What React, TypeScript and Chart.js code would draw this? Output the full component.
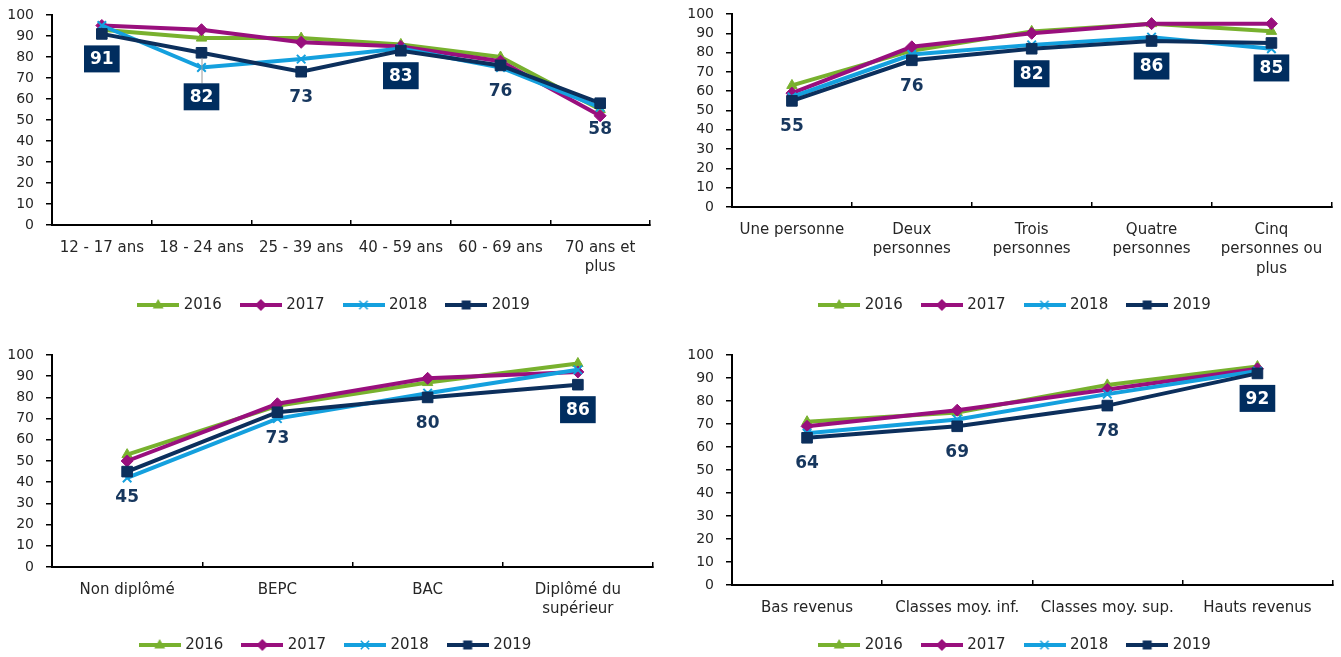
import React, { useEffect, useRef } from 'react';
import { Chart, registerables } from 'chart.js';

Chart.register(...registerables);

// ---------- data ----------
const YEARS = ['2016', '2017', '2018', '2019'];

const ageCategories = [['12 - 17 ans'], ['18 - 24 ans'], ['25 - 39 ans'], ['40 - 59 ans'], ['60 - 69 ans'], ['70 ans et', 'plus']];
const age2016 = [93, 89, 89, 86, 80, 55];
const age2017 = [95, 93, 87, 85, 78, 52];
const age2018 = [95, 75, 79, 84, 75, 56];
const age2019 = [91, 82, 73, 83, 76, 58];

const householdCategories = [['Une personne'], ['Deux', 'personnes'], ['Trois', 'personnes'], ['Quatre', 'personnes'], ['Cinq', 'personnes ou', 'plus']];
const household2016 = [63, 81, 91, 95, 91];
const household2017 = [59, 83, 90, 95, 95];
const household2018 = [57, 79, 84, 88, 82];
const household2019 = [55, 76, 82, 86, 85];

const diplomaCategories = [['Non diplômé'], ['BEPC'], ['BAC'], ['Diplômé du', 'supérieur']];
const diploma2016 = [53, 76, 87, 96];
const diploma2017 = [50, 77, 89, 92];
const diploma2018 = [42, 70, 82, 93];
const diploma2019 = [45, 73, 80, 86];

const incomeCategories = [['Bas revenus'], ['Classes moy. inf.'], ['Classes moy. sup.'], ['Hauts revenus']];
const income2016 = [71, 75, 87, 95];
const income2017 = [69, 76, 85, 94];
const income2018 = [66, 72, 83, 93];
const income2019 = [64, 69, 78, 92];

const Y_MIN = 0;
const Y_MAX = 100;
const Y_STEP = 10;

// ---------- styles ----------
const FONT = "'DejaVu Sans', Verdana, sans-serif";
const COLORS = ['#78B12E', '#990F7D', '#14A0DE', '#0C2F5C'];
const POINT_STYLES = ['triangle', 'rectRot', 'crossRot', 'rect'];
const POINT_RADII = [6, 6, 6, 7.5];
const TEXT_COLOR = '#262626';
const LABEL_TEXT = '#17375E';
const LABEL_BOX = '#002D5F';

type PanelSpec = {
  left: number; top: number; width: number; height: number;
  padding: { left: number; right: number; top: number; bottom: number };
  yWidth: number; xHeight: number; legendShift: number;
  categories: string[][];
  series: number[][];
  boxed: boolean[];
  leader: boolean[];
};

const PANELS: PanelSpec[] = [
  {
    left: 0, top: 0, width: 670, height: 330,
    padding: { left: 0, right: 20, top: 15, bottom: 7.5 },
    yWidth: 52, xHeight: 51.5, legendShift: 10,
    categories: ageCategories,
    series: [age2016, age2017, age2018, age2019],
    boxed: [true, true, false, true, false, false],
    leader: [false, true, false, false, false, false],
  },
  {
    left: 680, top: 0, width: 661, height: 330,
    padding: { left: 0, right: 8, top: 14, bottom: 7.5 },
    yWidth: 52, xHeight: 69.5, legendShift: 9.5,
    categories: householdCategories,
    series: [household2016, household2017, household2018, household2019],
    boxed: [false, false, true, true, true],
    leader: [false, false, false, false, false],
  },
  {
    left: 0, top: 330, width: 670, height: 335,
    padding: { left: 0, right: 17, top: 25, bottom: 2.5 },
    yWidth: 52, xHeight: 49.5, legendShift: 10,
    categories: diplomaCategories,
    series: [diploma2016, diploma2017, diploma2018, diploma2019],
    boxed: [false, false, false, true],
    leader: [false, false, false, false],
  },
  {
    left: 680, top: 330, width: 661, height: 335,
    padding: { left: 0, right: 8, top: 25, bottom: 2.5 },
    yWidth: 52, xHeight: 31.5, legendShift: 9.5,
    categories: incomeCategories,
    series: [income2016, income2017, income2018, income2019],
    boxed: [false, false, false, true],
    leader: [false, false, false, false],
  },
];

function drawMarker(ctx: CanvasRenderingContext2D, style: string, x: number, y: number, r: number, color: string) {
  ctx.fillStyle = color;
  ctx.strokeStyle = color;
  ctx.beginPath();
  if (style === 'triangle') {
    ctx.moveTo(x, y - r);
    ctx.lineTo(x + r * 0.9, y + r * 0.6);
    ctx.lineTo(x - r * 0.9, y + r * 0.6);
    ctx.closePath();
    ctx.fill();
  } else if (style === 'rectRot') {
    ctx.moveTo(x, y - r);
    ctx.lineTo(x + r, y);
    ctx.lineTo(x, y + r);
    ctx.lineTo(x - r, y);
    ctx.closePath();
    ctx.fill();
  } else if (style === 'crossRot') {
    ctx.lineWidth = 1.5;
    ctx.moveTo(x - r * 0.7, y - r * 0.7);
    ctx.lineTo(x + r * 0.7, y + r * 0.7);
    ctx.moveTo(x + r * 0.7, y - r * 0.7);
    ctx.lineTo(x - r * 0.7, y + r * 0.7);
    ctx.stroke();
  } else {
    ctx.rect(x - r * 0.75, y - r * 0.75, r * 1.5, r * 1.5);
    ctx.fill();
  }
}

function makeLegendImage(i: number): HTMLCanvasElement {
  const c = document.createElement('canvas');
  c.width = 42;
  c.height = 14;
  const ctx = c.getContext('2d')!;
  ctx.strokeStyle = COLORS[i];
  ctx.lineWidth = 4;
  ctx.beginPath();
  ctx.moveTo(0, 7);
  ctx.lineTo(42, 7);
  ctx.stroke();
  drawMarker(ctx, POINT_STYLES[i], 21, 7, 6, COLORS[i]);
  return c;
}

function valueLabelPlugin(boxed: boolean[], leader: boolean[]) {
  return {
    id: 'valueLabels',
    afterDatasetsDraw(chart: any) {
      const idx = 3;
      const meta = chart.getDatasetMeta(idx);
      const values = chart.data.datasets[idx].data as number[];
      const ctx: CanvasRenderingContext2D = chart.ctx;
      ctx.save();
      ctx.font = `bold 17px ${FONT}`;
      ctx.textAlign = 'center';
      ctx.textBaseline = 'middle';
      meta.data.forEach((pt: any, i: number) => {
        const off = leader[i] ? 44 : 25;
        const x = pt.x;
        const y = pt.y + off;
        const text = String(values[i]);
        if (boxed[i]) {
          const w = ctx.measureText(text).width + 12;
          const h = 27;
          if (leader[i]) {
            ctx.strokeStyle = '#9A9A9A';
            ctx.lineWidth = 1;
            ctx.beginPath();
            ctx.moveTo(x + 0.5, pt.y + 5);
            ctx.lineTo(x + 0.5, y - h / 2);
            ctx.stroke();
          }
          ctx.fillStyle = LABEL_BOX;
          ctx.fillRect(x - w / 2, y - h / 2, w, h);
          ctx.fillStyle = '#FFFFFF';
        } else {
          ctx.fillStyle = LABEL_TEXT;
        }
        ctx.fillText(text, x, y + 1);
      });
      ctx.restore();
    },
  };
}

function legendShiftPlugin(shift: number) {
  return {
    id: 'legendShift',
    afterLayout(chart: any) {
      const l = chart.legend;
      if (l) {
        l.left += shift;
        l.right += shift;
      }
    },
  };
}

function buildConfig(p: PanelSpec, legendImages: HTMLCanvasElement[]): any {
  return {
    type: 'line',
    data: {
      labels: p.categories,
      datasets: p.series.map((vals, i) => ({
        label: YEARS[i],
        data: vals,
        borderColor: COLORS[i],
        backgroundColor: COLORS[i],
        borderWidth: 4,
        pointStyle: POINT_STYLES[i],
        pointRadius: POINT_RADII[i],
        pointBorderWidth: i === 2 ? 2 : 1,
        pointBackgroundColor: COLORS[i],
        pointBorderColor: COLORS[i],
        tension: 0,
        fill: false,
        order: 3 - i,
      })),
    },
    options: {
      animation: false,
      responsive: false,
      devicePixelRatio: 1,
      events: [],
      layout: { padding: p.padding },
      scales: {
        x: {
          type: 'category',
          offset: true,
          grid: { offset: true, drawOnChartArea: false, drawTicks: true, tickLength: -5, color: '#000', lineWidth: 1.5 },
          border: { display: true, color: '#000', width: 2 },
          ticks: {
            autoSkip: false, maxRotation: 0, minRotation: 0, padding: 18,
            color: TEXT_COLOR, font: { family: FONT, size: 15, lineHeight: 1.3 },
          },
          afterFit: (s: any) => { s.height = p.xHeight; },
        },
        y: {
          min: Y_MIN, max: Y_MAX,
          ticks: { stepSize: Y_STEP, autoSkip: false, padding: 12, color: TEXT_COLOR, font: { family: FONT, size: 14 } },
          grid: { drawOnChartArea: false, drawTicks: true, tickLength: 6, color: '#000', lineWidth: 1.5 },
          border: { display: true, color: '#000', width: 2 },
          afterFit: (s: any) => {
            s.width = p.yWidth;
            s.paddingTop = 0;
            s.paddingBottom = 0;
          },
        },
      },
      plugins: {
        tooltip: { enabled: false },
        legend: {
          position: 'bottom',
          labels: {
            usePointStyle: true,
            pointStyleWidth: 36,
            padding: 21,
            color: TEXT_COLOR,
            font: { family: FONT, size: 15 },
            generateLabels: (chart: any) => chart.data.datasets.map((ds: any, i: number) => ({
              text: ds.label,
              datasetIndex: i,
              pointStyle: legendImages[i],
              fillStyle: COLORS[i],
              strokeStyle: COLORS[i],
              lineWidth: 0,
              hidden: false,
              fontColor: TEXT_COLOR,
            })),
          },
        },
      },
    },
    plugins: [valueLabelPlugin(p.boxed, p.leader), legendShiftPlugin(p.legendShift)],
  };
}

function Panel({ spec }: { spec: PanelSpec }) {
  const ref = useRef<HTMLCanvasElement>(null);
  useEffect(() => {
    const images = YEARS.map((_, i) => makeLegendImage(i));
    const chart = new Chart(ref.current!, buildConfig(spec, images));
    return () => chart.destroy();
  }, [spec]);
  return (
    <canvas
      ref={ref}
      width={spec.width}
      height={spec.height}
      style={{ position: 'absolute', left: spec.left, top: spec.top, width: spec.width, height: spec.height }}
    />
  );
}

export default function App() {
  return (
    <div style={{ position: 'fixed', left: 0, top: 0, width: 1341, height: 657, overflow: 'hidden', background: '#fff' }}>
      {PANELS.map((p, i) => <Panel key={i} spec={p} />)}
    </div>
  );
}
